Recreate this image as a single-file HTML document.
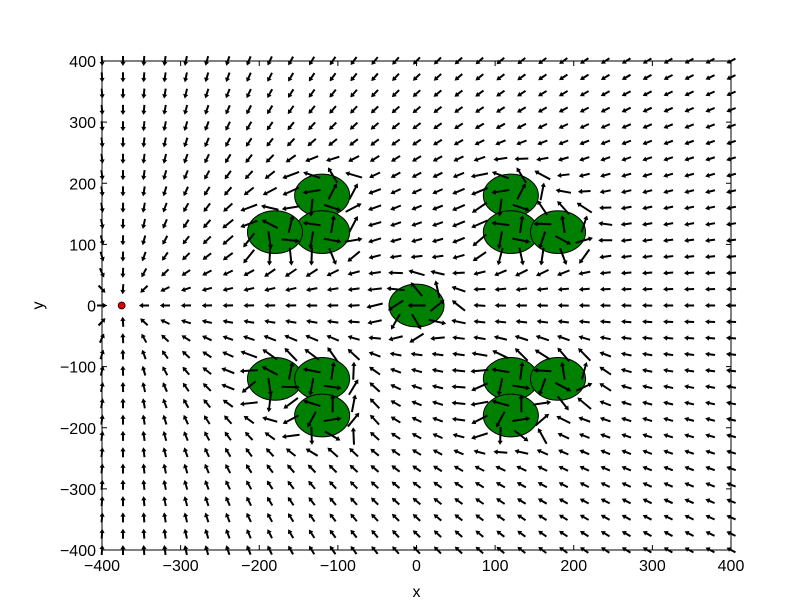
<!DOCTYPE html>
<html><head><meta charset="utf-8"><style>
body{margin:0;background:#fff;}
svg{display:block;font-family:"Liberation Sans",sans-serif;}
</style></head><body>
<svg id="c" width="812" height="612"></svg>
<script>
const xTicks=[-400,-300,-200,-100,0,100,200,300,400];
const yTicks=[-400,-300,-200,-100,0,100,200,300,400];
const obsX=[-120,-120,-180,120,120,180,-180,-120,-120,120,180,120,0];
const obsY=[180,120,120,180,120,120,-120,-120,-180,-120,-120,-180,0];
const obsR=35;
const sinkX=-375, sinkY=0;
const gridN=31;
const L=102,R=731,T=61,B=550;
const sx=v=>L+(v+400)/800*(R-L);
const sy=v=>B-(v+400)/800*(B-T);
const NS="http://www.w3.org/2000/svg";
const svg=document.getElementById('c');
function mk(t,a,p){const e=document.createElementNS(NS,t);for(const k in a)e.setAttribute(k,a[k]);(p||svg).appendChild(e);return e;}
const plot=mk('g',{});


for(let i=0;i<obsX.length;i++){
 const e=mk('ellipse',{cx:sx(obsX[i]),cy:sy(obsY[i]),rx:obsR*(R-L)/800,ry:obsR*(B-T)/800,fill:'#008000',stroke:'#000','stroke-width':1},plot);
 
 
}
const ag=mk('g',{fill:'#000'},plot);


for(let i=0;i<gridN;i++)for(let j=0;j<gridN;j++){
 const x=-400+800*i/(gridN-1), y=-400+800*j/(gridN-1);
 let dx=sinkX-x, dy=sinkY-y; let d=Math.hypot(dx,dy); if(d<5)continue;
 let u=dx/d, v=dy/d; let boost=0;
 for(let k=0;k<obsX.length;k++){
  const px=x-obsX[k], py=y-obsY[k]; const r=Math.hypot(px,py)||1;
  const f=Math.pow(50/r,4);
  u+=f*(px/r)*0.7; v+=f*(py/r)*0.7;
  u+=f*(-py/r)*0.5; v+=f*(px/r)*0.5;
  boost+=Math.min(f,1);
 }
 const m=Math.hypot(u,v)||1; u/=m; v/=m;
 const len=10+Math.min(boost,1)*8;
 const cx=sx(x), cy=sy(y);
 const ux=u, uy=-v;
 const x0=cx-ux*len/2, y0=cy-uy*len/2, x1=cx+ux*len/2, y1=cy+uy*len/2;
 const nx=-uy, ny=ux, hw=2.6, sw=1.0, hl=4.2;
 const bx=x1-ux*hl, by=y1-uy*hl;
 const pts=[[x0+nx*sw,y0+ny*sw],[bx+nx*sw,by+ny*sw],[bx+nx*hw,by+ny*hw],[x1,y1],[bx-nx*hw,by-ny*hw],[bx-nx*sw,by-ny*sw],[x0-nx*sw,y0-ny*sw]];
 const p=mk('polygon',{points:pts.map(q=>q[0].toFixed(1)+','+q[1].toFixed(1)).join(' ')},ag);
 
 
}
const dot=mk('circle',{cx:sx(sinkX),cy:sy(sinkY),r:3.5,fill:'#e00000',stroke:'#000','stroke-width':0.8},plot);


const fr=mk('rect',{x:L,y:T,width:R-L,height:B-T,fill:'none',stroke:'#000','stroke-width':1});


const ax=mk('g',{'font-size':16,fill:'#000'});


xTicks.forEach(t=>{const X=sx(t);
 mk('line',{x1:X,x2:X,y1:B,y2:B-5,stroke:'#000'},ax);mk('line',{x1:X,x2:X,y1:T,y2:T+5,stroke:'#000'},ax);
 const tx=mk('text',{x:X,y:B+21,'text-anchor':'middle'},ax);tx.textContent=t<0?'−'+(-t):t;
 });
yTicks.forEach(t=>{const Y=sy(t);
 mk('line',{x1:L,x2:L+5,y1:Y,y2:Y,stroke:'#000'},ax);mk('line',{x1:R,x2:R-5,y1:Y,y2:Y,stroke:'#000'},ax);
 const tx=mk('text',{x:L-6,y:Y+6,'text-anchor':'end'},ax);tx.textContent=t<0?'−'+(-t):t;
 });
const xl=mk('text',{x:(L+R)/2,y:597,'text-anchor':'middle','font-size':16},ax);xl.textContent='x';

const yl=mk('text',{x:43,y:(T+B)/2,'text-anchor':'middle','font-size':16,transform:`rotate(-90 43 ${(T+B)/2})`},ax);yl.textContent='y';

</script>
</body></html>
